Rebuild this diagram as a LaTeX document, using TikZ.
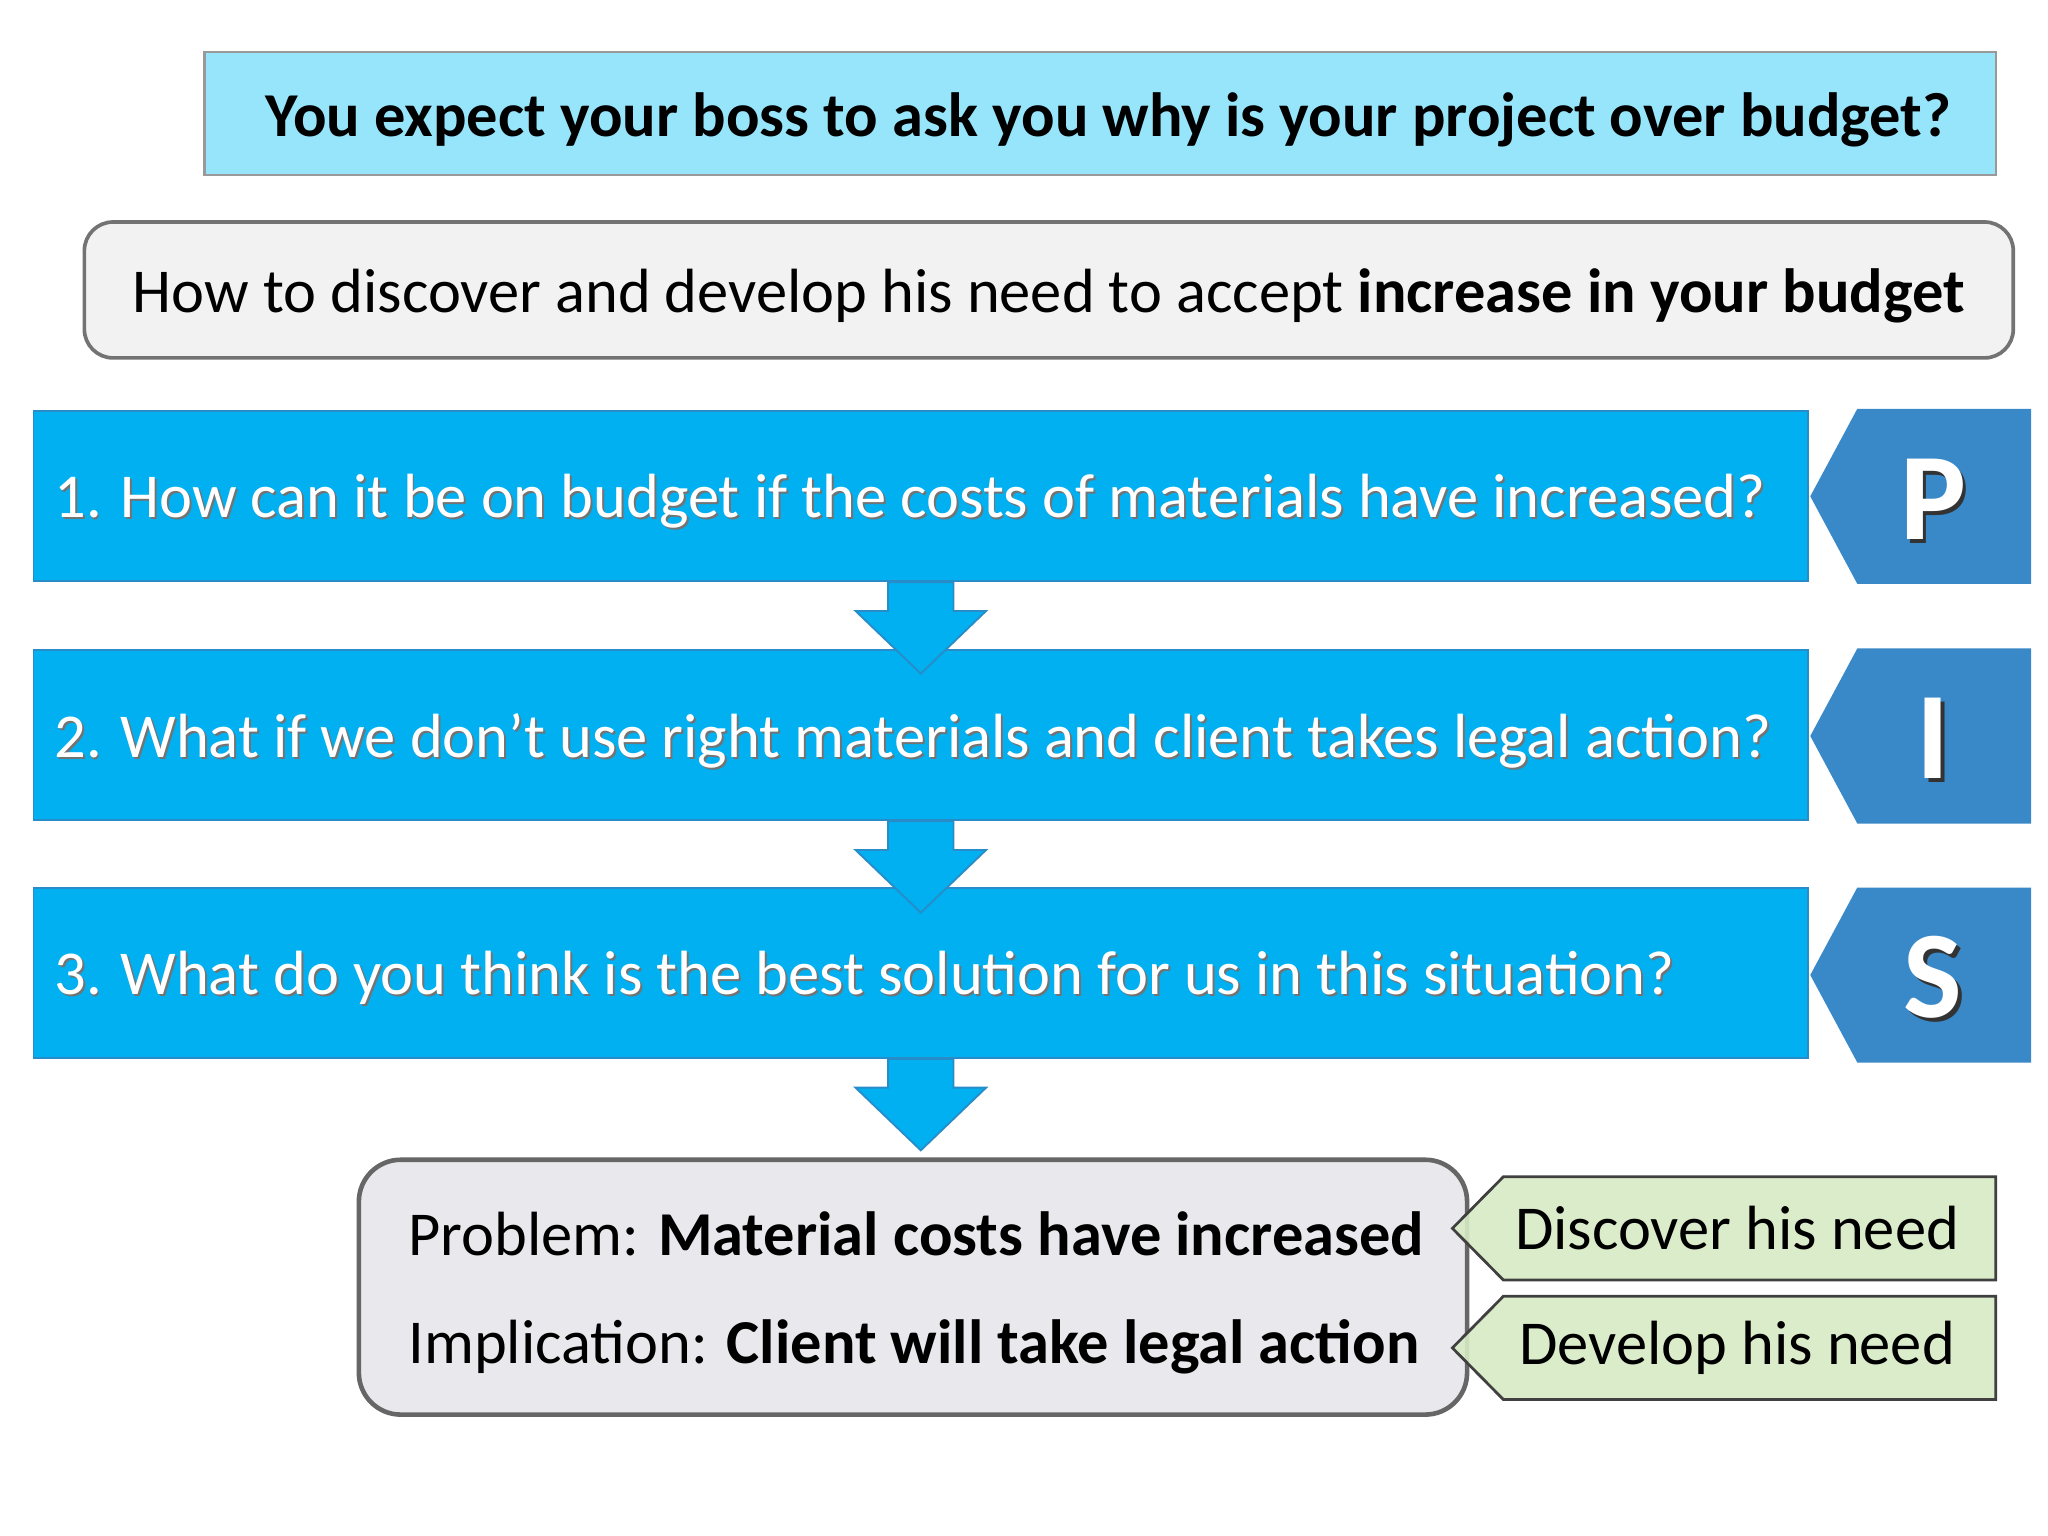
\documentclass[tikz,border=0pt]{standalone}
\usepackage{fontspec}
\setmainfont{Carlito}
\usetikzlibrary{calc}
\definecolor{skylite}{RGB}{151,229,251}
\definecolor{paper}{RGB}{242,242,242}
\definecolor{barblue}{RGB}{0,176,240}
\definecolor{baredge}{RGB}{40,140,200}
\definecolor{tagblue}{RGB}{57,137,201}
\definecolor{sumgray}{RGB}{233,232,236}
\definecolor{needgreen}{RGB}{216,235,198}
\newcommand{\ptag}[3]{%
  \fill[tagblue] (1386,#2) -- (1422,#2-67) -- (1555,#2-67) -- (1555,#2+67) -- (1422,#2+67) -- cycle;%
  \node[letter,text=black!80] at (1483,#2+5) {#3};%
  \node[letter] (#1) at (1480,#2+2) {#3};%
}
\newcommand{\gtag}[3]{%
  \draw[needtag] (1112,#2) -- (1151,#2-39.5) -- (1528,#2-39.5) -- (1528,#2+39.5) -- (1151,#2+39.5) -- cycle;%
  \node[needtext] (#1) at (1330,#2) {#3};%
}
\newcommand{\blockdown}[1]{%
  \filldraw[flow] ($(#1.south)+(-25,0)$) -- ++(0,22) -- ++(-25,0) -- ($(#1.south)+(0,70)$)
    -- ($(#1.south)+(50,22)$) -- ++(-25,0) -- ($(#1.south)+(25,0)$) -- cycle;%
}
\newcommand{\bartext}[3]{%
  \node[btext,text=black!55] at ($(#1.west)+(17.5,5.5)$) {#3};%
  \node[btext] (#2) at ($(#1.west)+(16,4)$) {#3};%
}
\newcommand{\sinktext}[1]{\raisebox{-1.3pt}[\height][\depth]{#1}}

\begin{document}
\begin{tikzpicture}[x=0.01cm,y=-0.01cm,
  every node/.style={font=\fontsize{13.6}{16}\selectfont},
  head/.style={draw=gray!80,fill=skylite,line width=0.5pt,minimum width=13.71cm,minimum height=0.94cm,font=\fontsize{13.6}{16}\selectfont\bfseries},
  ask/.style={draw=black!55,fill=paper,line width=0.8pt,rounded corners=0.22cm,minimum width=14.76cm,minimum height=1.04cm},
  bar/.style={draw=baredge,fill=barblue,line width=0.4pt,minimum width=13.58cm,minimum height=1.30cm},
  btext/.style={anchor=west,inner sep=0,text=white,font=\fontsize{13.6}{16}\selectfont},
  flow/.style={fill=barblue,draw=baredge,line width=0.4pt,line join=miter},
  letter/.style={text=white,inner sep=0,font=\fontsize{27}{32}\selectfont\bfseries},
  sum/.style={draw=black!60,fill=sumgray,line width=1pt,rounded corners=0.32cm,minimum width=8.48cm,minimum height=1.95cm},
  sumtext/.style={anchor=west,inner sep=0,font=\fontsize{13.6}{16}\selectfont},
  needtag/.style={draw=black!75,fill=needgreen,fill opacity=0.9,line width=0.6pt},
  needtext/.style={inner sep=0,font=\fontsize{13.6}{16}\selectfont}]
\useasboundingbox[fill=white] (0,0) rectangle (1568,1176);
\node[head] (boss) at (842.5,87) {\sinktext{\hspace{3.4pt}You expect your boss to ask you why is your project over budget?}};
\node[ask] (how) at (803,222) {\sinktext{How to discover and develop his need to accept \textbf{increase in your budget}}};
\node[bar] (q1) at (705,380) {};
\node[bar] (q2) at (705,563) {};
\node[bar] (q3) at (705,745) {};
\blockdown{q1}
\blockdown{q2}
\blockdown{q3}
\bartext{q1}{t1}{1. How can it be on budget if the costs of materials have increased?}
\bartext{q2}{t2}{2. What if we don’t use right materials and client takes legal action?}
\bartext{q3}{t3}{3. What do you think is the best solution for us in this situation?}
\ptag{p}{380}{P}
\ptag{i}{563.5}{I}
\ptag{s}{746.5}{S}
\node[sum] (res) at (699,985.5) {};
\node[sumtext] (prob) at (312,945) {Problem: \textbf{Material costs have increased}};
\node[sumtext] (impl) at (312,1031) {Implication: \textbf{Client will take legal action}};
\gtag{disc}{940.5}{Discover his need}
\gtag{dev}{1032}{Develop his need}
\end{tikzpicture}
\end{document}
